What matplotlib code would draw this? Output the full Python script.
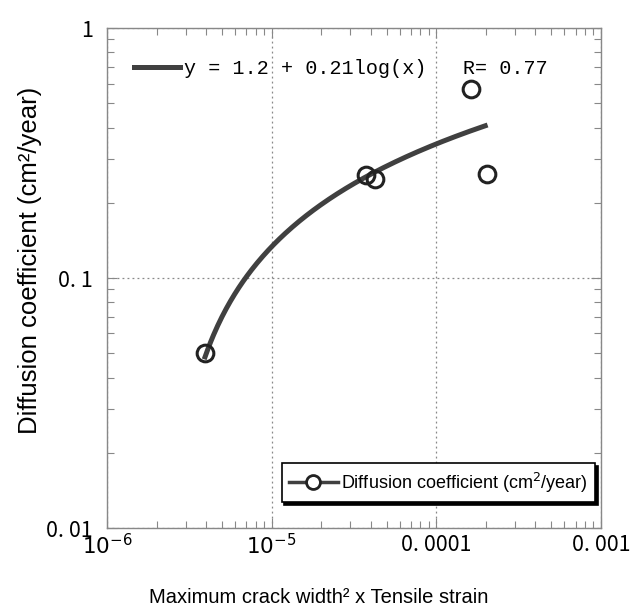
import numpy as np
import matplotlib
matplotlib.use('Agg')
import matplotlib.pyplot as plt
from matplotlib import font_manager
from matplotlib.lines import Line2D
from matplotlib.ticker import LogLocator, FixedLocator, FixedFormatter, NullFormatter

# measured points
crack_strain = [3.94e-6, 3.74e-5, 4.24e-5, 1.62e-4, 2.03e-4]
diff_coef = [0.050, 0.258, 0.249, 0.57, 0.26]

# fit y = a + b*log10(x), as printed on the chart (less rounded)
fit_a = 1.186
fit_b = 0.2105
fit_label = "y = 1.2 + 0.21log(x)   R= 0.77"

xtick_vals = [1e-6, 1e-5, 1e-4, 1e-3]
xtick_text = ["$10^{-6}$", "$10^{-5}$", "0. 0001", "0. 001"]
ytick_vals = [0.01, 0.1, 1]
ytick_text = ["0. 01", "0. 1", "1"]

mono = 'Liberation Mono'
sans = 'Liberation Sans'

# narrow font for the tick labels if there is one
names = {f.name for f in font_manager.fontManager.ttflist}
if 'Liberation Sans Narrow' in names:
    tick_font, tick_size = 'Liberation Sans Narrow', 17
else:
    tick_font, tick_size = 'Noto Sans CJK JP', 15.5

fig = plt.figure(figsize=(6.35, 6.10), dpi=100)
ax = fig.add_axes([0.1685, 0.1344, 0.778, 0.8196])
ax.set_xscale('log')
ax.set_yscale('log')
ax.set_xlim(1e-6, 1e-3)
ax.set_ylim(0.01, 1)

# fit curve over the data range
xf = np.logspace(np.log10(min(crack_strain)), np.log10(1.98e-4), 200)
yf = fit_a + fit_b * np.log10(xf)
fit_line, = ax.plot(xf, yf, color='#404040', lw=3.6, zorder=2)

ax.plot(crack_strain, diff_coef, 'o', ms=12, mfc='none', mec='#222222',
        mew=2.2, ls='none', zorder=3)

# grid and ticks
ax.grid(True, which='major', ls=(0, (1.5, 2.5)), color='#888888', lw=0.9)
ax.xaxis.set_major_locator(FixedLocator(xtick_vals))
ax.xaxis.set_major_formatter(FixedFormatter(xtick_text))
ax.yaxis.set_major_locator(FixedLocator(ytick_vals))
ax.yaxis.set_major_formatter(FixedFormatter(ytick_text))
ax.xaxis.set_minor_locator(LogLocator(base=10, subs=np.arange(2, 10)))
ax.yaxis.set_minor_locator(LogLocator(base=10, subs=np.arange(2, 10)))
ax.xaxis.set_minor_formatter(NullFormatter())
ax.yaxis.set_minor_formatter(NullFormatter())
ax.tick_params(which='both', direction='in', top=True, right=True,
               color='#888888')
ax.tick_params(which='major', length=7, width=0.8)
ax.tick_params(which='minor', length=5, width=0.8)
ax.tick_params(axis='x', which='major', pad=4)
ax.tick_params(axis='y', which='major', pad=10)
for lab in ax.get_xticklabels() + ax.get_yticklabels():
    lab.set_fontfamily(tick_font)
    lab.set_fontsize(tick_size)
for sp in ax.spines.values():
    sp.set_color('#888888')
    sp.set_linewidth(1.0)

# fit legend (top)
leg1 = ax.legend([fit_line], [fit_label], loc='upper left',
                 bbox_to_anchor=(0.017, 0.975), frameon=False,
                 handlelength=2.3, handletextpad=0.2,
                 prop={'family': mono, 'size': 14.5})
ax.add_artist(leg1)

# data legend (bottom right)
h = Line2D([], [], color='#404040', lw=2.5, marker='o', ms=10,
           mfc='white', mec='#222222', mew=2)
leg2 = ax.legend([h], ["Diffusion coefficient (cm$^2$/year)"],
                 loc='lower right', bbox_to_anchor=(0.988, 0.052),
                 borderaxespad=0, fancybox=False,
                 shadow={'color': 'black', 'alpha': 1},
                 handlelength=2.7, handletextpad=0.2, borderpad=0.4,
                 prop={'family': sans, 'size': 13})
leg2.get_frame().set_edgecolor('black')
leg2.get_frame().set_linewidth(1.2)

fig.text(0.047, 0.573, "Diffusion coefficient (cm²/year)", rotation=90,
         ha='center', va='center', family=sans, fontsize=18.5)
fig.text(0.502, 0.021, "Maximum crack width² x Tensile strain",
         ha='center', va='center', family=sans, fontsize=14.5)

fig.savefig('out.png', dpi=100)
